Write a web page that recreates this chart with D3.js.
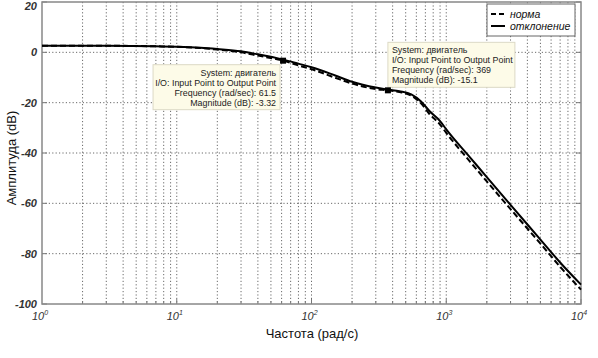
<!DOCTYPE html>
<html><head><meta charset="utf-8">
<script src="https://cdn.jsdelivr.net/npm/d3@7"></script>
<style>body{margin:0;background:#fff}svg{display:block}text{font-family:Arial,"Liberation Sans",sans-serif}</style>
</head><body><svg id="c" width="598" height="358"></svg>
<script>
const freqs = [1, 3, 7, 10, 15, 20, 30, 40, 61.5, 80, 100, 150, 200, 300, 369, 450, 550, 650, 750, 900, 1000, 1500, 2000, 3000, 5000, 7000, 10000];
const otklonenie = [2.6, 2.6, 2.4, 2.2, 1.8, 1.3, 0.4, -0.8, -2.9, -4.5, -5.9, -9.2, -11.7, -14.0, -14.8, -15.5, -16.7, -19.5, -23.3, -27.3, -30.6, -41.7, -49.6, -60.6, -74.4, -83.5, -92.3];
const norma = [2.6, 2.6, 2.4, 2.2, 1.7, 1.1, 0.0, -1.3, -3.32, -5.2, -6.7, -10.1, -12.4, -14.6, -15.1, -15.8, -17.2, -20.3, -24.5, -28.7, -32.0, -43.4, -51.3, -62.3, -76.0, -85.2, -94.3];
const yTicks = [20, 0, -20, -40, -60, -80, -100];
const xDecades = [0, 1, 2, 3, 4];
const tips = [
  {f: 61.5, m: -3.32, lines: ["System: двигатель", "I/O: Input Point to Output Point", "Frequency (rad/sec): 61.5", "Magnitude (dB): -3.32"], side: "left"},
  {f: 369, m: -15.1, lines: ["System: двигатель", "I/O: Input Point to Output Point", "Frequency (rad/sec): 369", "Magnitude (dB): -15.1"], side: "right"}
];
const legendItems = [{name: "норма", dash: "5,3"}, {name: "отклонение", dash: null}];

const svg = d3.select("#c");
const L = 42, R = 581, T = 2, B = 304;
const x = d3.scaleLog().domain([1, 10000]).range([L, R]);
const y = d3.scaleLinear().domain([-100, 20]).range([B, T]);

// grid
const minor = [];
for (let d = 0; d < 4; d++) for (let k = 1; k <= 9; k++) { if (d === 0 && k === 1) continue; minor.push(k * Math.pow(10, d)); }
const g = svg.append("g");
g.selectAll(".vg").data(minor).join("line")
  .attr("x1", d => x(d)).attr("x2", d => x(d)).attr("y1", T).attr("y2", B)
  .attr("stroke", "#444").attr("stroke-width", 0.8).attr("stroke-dasharray", "1.2,2.2");
g.selectAll(".hg").data(yTicks.filter(v => v > -100 && v < 20)).join("line")
  .attr("x1", L).attr("x2", R).attr("y1", d => y(d)).attr("y2", d => y(d))
  .attr("stroke", "#444").attr("stroke-width", 0.8).attr("stroke-dasharray", "1.2,2.2");

// ticks (inward)
const allX = minor.concat([10000]);
g.selectAll(".bt").data(allX).join("line")
  .attr("x1", d => x(d)).attr("x2", d => x(d)).attr("y1", B).attr("y2", d => B - (Number.isInteger(Math.log10(d)) ? 5 : 3))
  .attr("stroke", "#777");
g.selectAll(".lt").data(yTicks).join("line")
  .attr("x1", L).attr("x2", L + 5).attr("y1", d => y(d)).attr("y2", d => y(d)).attr("stroke", "#777");
g.selectAll(".rt").data(yTicks).join("line")
  .attr("x1", R).attr("x2", R - 5).attr("y1", d => y(d)).attr("y2", d => y(d)).attr("stroke", "#777");

// frame
svg.append("rect").attr("x", L).attr("y", T).attr("width", R - L).attr("height", B - T)
  .attr("fill", "none").attr("stroke", "#888").attr("stroke-width", 1.5);

// y tick labels
svg.selectAll(".yl").data(yTicks).join("text")
  .attr("x", 37).attr("y", d => Math.max(y(d), 6.5)).attr("dy", "0.35em").attr("text-anchor", "end")
  .attr("font-size", 11).attr("font-style", "italic").attr("font-weight", "bold").attr("fill", "#333")
  .text(d => d);
// x tick labels
const xl = svg.selectAll(".xl").data(xDecades).join("text")
  .attr("x", d => x(Math.pow(10, d)) - 2).attr("y", 320).attr("text-anchor", "middle")
  .attr("font-size", 11).attr("font-style", "italic").attr("fill", "#333");
xl.append("tspan").text("10");
xl.append("tspan").attr("dy", -5).attr("font-size", 7).text(d => d);

// axis titles
svg.append("text").attr("x", 312).attr("y", 338).attr("text-anchor", "middle")
  .attr("font-size", 13).attr("fill", "#111").text("Частота (рад/с)");
svg.append("text").attr("transform", "translate(16,158) rotate(-90)").attr("text-anchor", "middle")
  .attr("font-size", 13).attr("fill", "#111").text("Амплитуда (dB)");

// lines
const line = d3.line().x(d => x(d[0])).y(d => y(d[1])).curve(d3.curveMonotoneX);
svg.append("path").datum(freqs.map((f, i) => [f, norma[i]])).attr("d", line)
  .attr("fill", "none").attr("stroke", "#000").attr("stroke-width", 2).attr("stroke-dasharray", "6,3");
svg.append("path").datum(freqs.map((f, i) => [f, otklonenie[i]])).attr("d", line)
  .attr("fill", "none").attr("stroke", "#000").attr("stroke-width", 2);

// datatips
tips.forEach(t => {
  const mx = x(t.f), my = y(t.m);
  const gg = svg.append("g");
  const lh = 10, w = 127, h = 45;
  let bx, by;
  if (t.side === "left") { bx = mx - w - 3; by = my + 4; } else { bx = mx; by = my - h - 3; }
  gg.append("rect").attr("x", bx).attr("y", by).attr("width", w).attr("height", h)
    .attr("fill", "#fdfbe8").attr("stroke", "#dcd9c6").attr("stroke-width", 1);
  gg.selectAll("text").data(t.lines).join("text")
    .attr("x", t.side === "left" ? bx + w - 4 : bx + 4)
    .attr("y", (d, i) => by + 11 + i * lh)
    .attr("text-anchor", t.side === "left" ? "end" : "start")
    .attr("font-size", 8.9).attr("fill", "#222").text(d => d);
  gg.append("rect").attr("x", mx - 3).attr("y", my - 3).attr("width", 6).attr("height", 6).attr("fill", "#000");
});

// legend
const lg = svg.append("g");
lg.append("rect").attr("x", 487).attr("y", 4).attr("width", 88).attr("height", 32)
  .attr("fill", "#fff").attr("stroke", "#666").attr("stroke-width", 1);
legendItems.forEach((it, i) => {
  const yy = 14 + i * 12;
  lg.append("line").attr("x1", 491).attr("x2", 505).attr("y1", yy).attr("y2", yy)
    .attr("stroke", "#000").attr("stroke-width", 2).attr("stroke-dasharray", it.dash);
  lg.append("text").attr("x", 510).attr("y", yy).attr("dy", "0.35em")
    .attr("font-size", 10.5).attr("font-style", "italic").attr("fill", "#111").text(it.name);
});
</script></body></html>
